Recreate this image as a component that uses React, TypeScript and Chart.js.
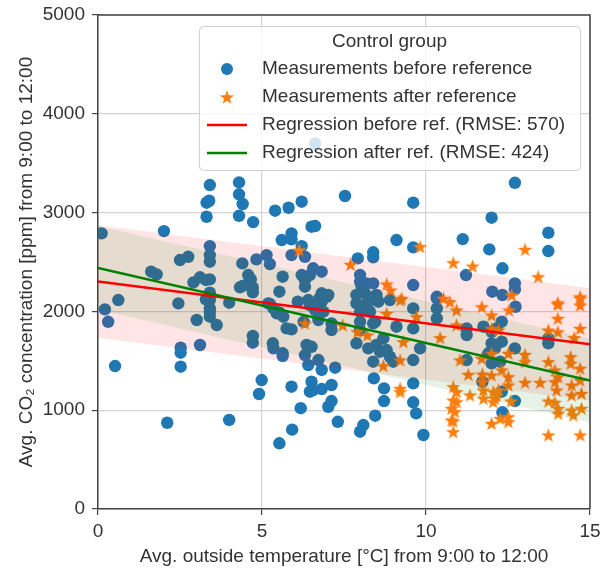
import React, { useEffect, useRef } from "react";
import { Chart, registerables } from "chart.js";

Chart.register(...registerables);

// ---------- data ----------
const beforePoints: [number, number][] = [
  [0.11, 2790], [0.21, 2020], [0.31, 1895], [0.52, 1447], [0.62, 2115],
  [1.62, 2402], [1.79, 2375], [2.01, 2813], [2.11, 873], [2.45, 2081],
  [2.5, 2520], [2.52, 1632], [2.52, 1582], [2.52, 1440], [2.75, 2553],
  [2.91, 2294], [3.01, 1913], [3.11, 2345], [3.11, 1660], [3.29, 2318],
  [3.29, 2122], [3.31, 3100], [3.31, 2958], [3.39, 3120], [3.41, 3279],
  [3.41, 2661], [3.41, 2570], [3.41, 2503], [3.41, 2324], [3.41, 2189],
  [3.41, 2115], [3.41, 2031], [3.41, 1997], [3.41, 1946], [3.62, 1862],
  [4.0, 2088], [4.0, 901], [4.3, 3306], [4.3, 3185], [4.3, 2968],
  [4.41, 3087], [4.33, 2244], [4.43, 2260], [4.4, 2486], [4.58, 2368],
  [4.66, 2324], [4.72, 2240], [4.72, 2193], [4.72, 1751], [4.72, 1683],
  [4.73, 2904], [4.83, 2527], [4.91, 1164], [4.99, 1305],
  [5.14, 2570], [5.19, 2081], [5.24, 2479], [5.24, 2075], [5.33, 1677],
  [5.35, 1626], [5.35, 2031], [5.4, 3019], [5.45, 1980], [5.53, 2199],
  [5.53, 1990], [5.53, 665], [5.6, 2722], [5.63, 2351], [5.63, 1576],
  [5.63, 1548], [5.65, 1946], [5.75, 1828], [5.81, 3049], [5.9, 2790],
  [5.9, 2729], [5.9, 2570], [5.9, 1818], [5.9, 1238], [5.92, 803],
  [6.09, 2098], [6.18, 1020], [6.21, 3110], [6.21, 2661], [6.21, 2368],
  [6.31, 2553], [6.31, 2318], [6.31, 2250], [6.27, 1895], [6.36, 1660],
  [6.41, 2115], [6.46, 2064], [6.41, 1457], [6.31, 1558], [6.46, 2368],
  [6.46, 1187], [6.51, 2857], [6.51, 1642], [6.51, 1288], [6.56, 2436],
  [6.56, 1204], [6.62, 2864], [6.62, 3700], [6.62, 2014], [6.72, 1913],
  [6.72, 1508], [6.75, 2132], [6.82, 2402], [6.82, 2183], [6.82, 2098],
  [6.82, 1407], [6.82, 1214], [6.87, 1997], [6.97, 2148], [7.02, 2166],
  [7.02, 1035], [7.12, 1879], [7.12, 1811], [7.12, 1255], [7.12, 1093],
  [7.23, 1430], [7.31, 883], [7.53, 3168],
  [7.88, 2166], [7.88, 2081], [7.88, 1677], [7.92, 2537], [7.99, 2368],
  [7.99, 2300], [7.99, 1997], [7.99, 1895], [7.99, 1811], [7.99, 782],
  [8.04, 2250], [8.09, 850], [8.14, 2183], [8.19, 2284], [8.19, 2081],
  [8.19, 2014], [8.24, 1626], [8.29, 1997], [8.39, 2598], [8.39, 2547],
  [8.39, 2284], [8.39, 1879], [8.39, 1491], [8.41, 1322], [8.45, 2115],
  [8.45, 1895], [8.45, 944], [8.49, 2166], [8.49, 2132], [8.49, 1660],
  [8.55, 2098], [8.6, 1592], [8.7, 1727], [8.72, 1221], [8.72, 1093],
  [8.8, 1609], [8.9, 2115], [8.9, 1541], [9.0, 1491], [9.1, 2722],
  [9.1, 1845], [9.61, 3100], [9.61, 2648], [9.61, 2267], [9.61, 2031],
  [9.61, 1828], [9.61, 1508], [9.61, 1272], [9.61, 1080], [9.7, 968],
  [9.82, 1626], [9.92, 749],
  [10.33, 2148], [10.33, 2132], [10.33, 2031], [10.33, 1930], [11.12, 2732],
  [11.22, 2368], [11.24, 1828], [11.24, 1761], [11.24, 1508], [11.72, 1288],
  [11.75, 1845], [11.9, 1576], [11.93, 2628], [12.0, 2948], [12.0, 1794],
  [12.0, 1677], [12.0, 1474], [12.02, 2199], [12.1, 1626], [12.15, 1828],
  [12.26, 1491], [12.31, 1896], [12.31, 1693], [12.31, 1187], [12.33, 2436],
  [12.33, 2166], [12.33, 979], [12.71, 3302], [12.71, 2284], [12.71, 2223],
  [12.71, 1626], [12.71, 1093], [12.73, 2047], [13.73, 2796], [13.73, 2611],
  [13.73, 1727], [13.73, 1677],
];

const afterPoints: [number, number][] = [
  [6.13, 2621], [6.31, 1880], [7.46, 1862], [7.7, 2476], [7.91, 1794],
  [8.21, 1761], [8.7, 1450], [8.8, 2277], [8.8, 1980], [8.92, 2216],
  [9.21, 2115], [9.21, 1508], [9.21, 1221], [9.21, 1187], [9.26, 2132],
  [9.31, 1693], [9.71, 1946], [9.82, 2655],
  [10.43, 1734], [10.53, 2132], [10.73, 2098], [10.83, 2493], [10.93, 2014],
  [10.93, 1862], [11.04, 1508], [11.29, 1363], [11.34, 1153], [11.42, 2459],
  [11.7, 2047], [11.7, 1525], [11.72, 1366], [11.72, 1288], [11.75, 1204],
  [11.75, 1120], [12.0, 1963], [12.0, 1828], [12.21, 1811], [12.0, 1576],
  [12.0, 1356], [12.05, 1187], [12.1, 1120], [12.15, 1153], [12.21, 1204],
  [12.05, 1086], [12.0, 867], [12.26, 917], [12.31, 1407], [12.53, 2014],
  [12.51, 1576], [12.51, 1339], [12.51, 1255], [12.51, 934], [12.51, 884],
  [12.59, 1093], [12.61, 2166], [13.02, 2628], [13.02, 1565], [13.02, 1491],
  [13.02, 1282], [13.42, 2351], [13.48, 1282], [13.73, 1811], [13.73, 1491],
  [13.73, 1093], [13.73, 749], [13.93, 1407], [13.93, 1288], [13.93, 1080],
  [13.98, 1204], [14.02, 2088], [14.02, 2071], [14.02, 1930], [14.02, 1794],
  [14.03, 1339], [14.03, 1019], [14.03, 968], [14.41, 1541], [14.41, 1474],
  [14.44, 1255], [14.44, 1153], [14.44, 1002], [14.49, 951], [14.52, 1734],
  [14.7, 2148], [14.7, 2132], [14.7, 2064], [14.7, 1828], [14.7, 1424],
  [14.7, 1305], [14.7, 749], [14.74, 1170], [14.74, 1019],
  [10.83, 1238], [10.93, 1187], [10.83, 1103], [10.93, 1086], [10.78, 1019],
  [10.88, 985], [10.78, 901], [10.83, 890], [10.83, 782],
];

const fitTemps = [0, 15];
const fitBefore = [2303, 1668];
const fitAfter = [2440, 1300];
const rmseBefore = 570;
const rmseAfter = 424;

const xTickValues = [0, 5, 10, 15];
const yTickValues = [0, 1000, 2000, 3000, 4000, 5000];

const legendTitle = "Control group";
const legendLabels = [
  "Measurements before reference",
  "Measurements after reference",
  `Regression before ref. (RMSE: ${rmseBefore})`,
  `Regression after ref. (RMSE: ${rmseAfter})`,
];
const xTitle = "Avg. outside temperature [°C] from 9:00 to 12:00";
const yTitle = "Avg. CO₂ concentration [ppm] from 9:00 to 12:00";

// ---------- styles ----------
const BLUE = "#1f77b4";
const ORANGE = "#ff7f0e";
const RED = "#ff0000";
const GREEN = "#008000";
const TEXT = "#333333";
const SPINE = "#444444";
const FONT = "'Liberation Sans', Arial, sans-serif";
const FSIZE = 19;
const STAR_R = 7.5;

function drawStar(ctx: CanvasRenderingContext2D, cx: number, cy: number, R: number, color: string) {
  const r = R * 0.4;
  ctx.beginPath();
  for (let i = 0; i < 10; i++) {
    const rad = i % 2 === 0 ? R : r;
    const a = -Math.PI / 2 + (i * Math.PI) / 5;
    const px = cx + rad * Math.cos(a);
    const py = cy + rad * Math.sin(a);
    if (i === 0) ctx.moveTo(px, py);
    else ctx.lineTo(px, py);
  }
  ctx.closePath();
  ctx.fillStyle = color;
  ctx.fill();
}

function makeStarImage(color: string, R: number) {
  const size = Math.ceil(R * 2 + 2);
  const c = document.createElement("canvas");
  c.width = size;
  c.height = size;
  const ctx = c.getContext("2d")!;
  drawStar(ctx, size / 2, size / 2 + 0.8, R, color);
  return c;
}

const decorPlugin = {
  id: "decor",
  afterDraw(chart: any) {
    const { ctx, chartArea: a } = chart;
    ctx.save();
    // top and right spines
    ctx.strokeStyle = SPINE;
    ctx.lineWidth = 1.5;
    ctx.beginPath();
    ctx.moveTo(a.left, a.top);
    ctx.lineTo(a.right, a.top);
    ctx.lineTo(a.right, a.bottom);
    ctx.stroke();

    // axis titles
    ctx.fillStyle = TEXT;
    ctx.font = `${FSIZE}px ${FONT}`;
    ctx.textAlign = "center";
    ctx.textBaseline = "alphabetic";
    ctx.fillText(xTitle, (a.left + a.right) / 2, a.bottom + 53);
    ctx.save();
    ctx.translate(a.left - 66.5, (a.top + a.bottom) / 2);
    ctx.rotate(-Math.PI / 2);
    ctx.fillText(yTitle, 0, 0);
    ctx.restore();

    // legend
    const bw = 381;
    const bh = 144;
    const bx = a.right - 391;
    const by = a.top + 11;
    ctx.beginPath();
    (ctx as any).roundRect(bx + 0.5, by + 0.5, bw, bh, 4);
    ctx.fillStyle = "rgba(255,255,255,0.8)";
    ctx.fill();
    ctx.strokeStyle = "rgba(204,204,204,0.9)";
    ctx.lineWidth = 1;
    ctx.stroke();

    ctx.fillStyle = TEXT;
    ctx.textBaseline = "middle";
    ctx.textAlign = "center";
    ctx.fillText(legendTitle, bx + bw / 2, by + 16);

    const rows = [by + 43, by + 71, by + 99, by + 127];
    const mx = bx + 28;
    ctx.beginPath();
    ctx.arc(mx, rows[0], 6, 0, Math.PI * 2);
    ctx.fillStyle = BLUE;
    ctx.fill();
    drawStar(ctx, mx, rows[1] + 0.8, STAR_R, ORANGE);
    ctx.lineWidth = 2.5;
    ctx.strokeStyle = RED;
    ctx.beginPath();
    ctx.moveTo(bx + 8, rows[2]);
    ctx.lineTo(bx + 48, rows[2]);
    ctx.stroke();
    ctx.strokeStyle = GREEN;
    ctx.beginPath();
    ctx.moveTo(bx + 8, rows[3]);
    ctx.lineTo(bx + 48, rows[3]);
    ctx.stroke();

    ctx.fillStyle = TEXT;
    ctx.textAlign = "left";
    legendLabels.forEach((t, i) => ctx.fillText(t, bx + 63, rows[i]));
    ctx.restore();
  },
};

export default function App() {
  const ref = useRef<HTMLCanvasElement | null>(null);

  useEffect(() => {
    if (!ref.current) return;
    const star = makeStarImage(ORANGE, STAR_R);
    const line = (vals: number[], off: number) =>
      fitTemps.map((x, i) => ({ x, y: vals[i] + off }));

    const tickFont = { family: FONT, size: FSIZE };
    const chart = new Chart(ref.current, {
      type: "scatter",
      data: {
        datasets: [
          {
            type: "scatter",
            label: legendLabels[0],
            data: beforePoints.map(([x, y]) => ({ x, y })),
            backgroundColor: BLUE,
            pointRadius: 6.2,
            pointBorderWidth: 0,
            borderWidth: 0,
            order: 10,
          },
          {
            type: "scatter",
            label: legendLabels[1],
            data: afterPoints.map(([x, y]) => ({ x, y })),
            pointStyle: star,
            pointRadius: STAR_R,
            backgroundColor: ORANGE,
            order: 9,
          },
          {
            type: "line",
            data: line(fitBefore, rmseBefore),
            showLine: true,
            borderWidth: 0,
            pointRadius: 0,
            fill: false,
            order: 8,
          },
          {
            type: "line",
            data: line(fitBefore, -rmseBefore),
            showLine: true,
            borderWidth: 0,
            pointRadius: 0,
            fill: "-1",
            backgroundColor: "rgba(255,0,0,0.1)",
            order: 8,
          },
          {
            type: "line",
            data: line(fitAfter, rmseAfter),
            showLine: true,
            borderWidth: 0,
            pointRadius: 0,
            fill: false,
            order: 7,
          },
          {
            type: "line",
            data: line(fitAfter, -rmseAfter),
            showLine: true,
            borderWidth: 0,
            pointRadius: 0,
            fill: "-1",
            backgroundColor: "rgba(0,128,0,0.1)",
            order: 7,
          },
          {
            type: "line",
            label: legendLabels[2],
            data: line(fitBefore, 0),
            showLine: true,
            borderColor: RED,
            borderWidth: 2.5,
            pointRadius: 0,
            fill: false,
            order: 1,
          },
          {
            type: "line",
            label: legendLabels[3],
            data: line(fitAfter, 0),
            showLine: true,
            borderColor: GREEN,
            borderWidth: 2.5,
            pointRadius: 0,
            fill: false,
            order: 0,
          },
        ],
      } as any,
      options: {
        responsive: false,
        animation: false,
        events: [],
        layout: { padding: { left: 0, right: 12, top: 15, bottom: 0 } },
        plugins: {
          legend: { display: false },
          tooltip: { enabled: false },
        },
        scales: {
          x: {
            type: "linear",
            min: 0,
            max: 15,
            afterBuildTicks: (s: any) => {
              s.ticks = xTickValues.map((v) => ({ value: v }));
            },
            ticks: {
              color: TEXT,
              font: tickFont,
              padding: 5,
              callback: (v: any) => String(v),
            },
            grid: { color: "#d4d4d4", lineWidth: 1.2, tickColor: SPINE, tickLength: 6 },
            border: { color: SPINE, width: 1.5 },
            afterFit: (s: any) => {
              s.height = 60;
              s.paddingLeft = 0;
              s.paddingRight = 0;
            },
          },
          y: {
            type: "linear",
            min: 0,
            max: 5000,
            afterBuildTicks: (s: any) => {
              s.ticks = yTickValues.map((v) => ({ value: v }));
            },
            ticks: {
              color: TEXT,
              font: tickFont,
              padding: 7,
              callback: (v: any) => String(v),
            },
            grid: { color: "#d4d4d4", lineWidth: 1.2, tickColor: SPINE, tickLength: 6 },
            border: { color: SPINE, width: 1.5 },
            afterFit: (s: any) => {
              s.width = 98;
              s.paddingTop = 0;
              s.paddingBottom = 0;
            },
          },
        },
      } as any,
      plugins: [decorPlugin],
    });
    return () => chart.destroy();
  }, []);

  return (
    <div style={{ position: "absolute", left: 0, top: 0, width: 602, height: 569, background: "#fff" }}>
      <canvas ref={ref} width={602} height={569} style={{ display: "block" }} />
    </div>
  );
}
